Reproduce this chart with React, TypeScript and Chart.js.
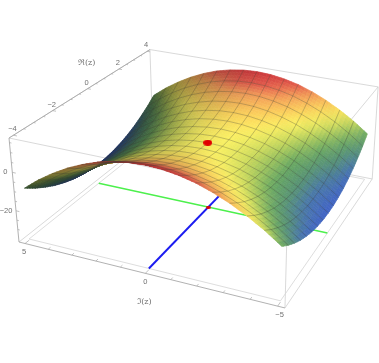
import React, { useEffect, useRef } from "react";
import { Chart, registerables } from "chart.js";

Chart.register(...registerables);

const imValues = [5, 4.375, 3.75, 3.125, 2.5, 1.875, 1.25, 0.625, 0, -0.625, -1.25, -1.875, -2.5, -3.125, -3.75, -4.375, -5];
const reValues = [-4, -3.5, -3, -2.5, -2, -1.5, -1, -0.5, 0, 0.5, 1, 1.5, 2, 2.5, 3, 3.5, 4];

// Height read at each mesh crossing: one row per reValues entry, one column per imValues entry
const heights = [
  [-9, -3.1, 1.9, 6.2, 9.7, 12.5, 14.4, 15.6, 16, 15.6, 14.4, 12.5, 9.7, 6.2, 1.9, -3.1, -9],
  [-12.8, -6.9, -1.8, 2.5, 6, 8.8, 10.7, 11.9, 12.3, 11.9, 10.7, 8.8, 6, 2.5, -1.8, -6.9, -12.8],
  [-16, -10.1, -5.1, -0.8, 2.7, 5.5, 7.4, 8.6, 9, 8.6, 7.4, 5.5, 2.7, -0.8, -5.1, -10.1, -16],
  [-18.8, -12.9, -7.8, -3.5, 0, 2.7, 4.7, 5.9, 6.3, 5.9, 4.7, 2.7, 0, -3.5, -7.8, -12.9, -18.8],
  [-21, -15.1, -10.1, -5.8, -2.3, 0.5, 2.4, 3.6, 4, 3.6, 2.4, 0.5, -2.3, -5.8, -10.1, -15.1, -21],
  [-22.8, -16.9, -11.8, -7.5, -4, -1.3, 0.7, 1.9, 2.3, 1.9, 0.7, -1.3, -4, -7.5, -11.8, -16.9, -22.8],
  [-24, -18.1, -13.1, -8.8, -5.3, -2.5, -0.6, 0.6, 1, 0.6, -0.6, -2.5, -5.3, -8.8, -13.1, -18.1, -24],
  [-24.8, -18.9, -13.8, -9.5, -6, -3.3, -1.3, -0.1, 0.3, -0.1, -1.3, -3.3, -6, -9.5, -13.8, -18.9, -24.8],
  [-25, -19.1, -14.1, -9.8, -6.3, -3.5, -1.6, -0.4, 0, -0.4, -1.6, -3.5, -6.3, -9.8, -14.1, -19.1, -25],
  [-24.8, -18.9, -13.8, -9.5, -6, -3.3, -1.3, -0.1, 0.3, -0.1, -1.3, -3.3, -6, -9.5, -13.8, -18.9, -24.8],
  [-24, -18.1, -13.1, -8.8, -5.3, -2.5, -0.6, 0.6, 1, 0.6, -0.6, -2.5, -5.3, -8.8, -13.1, -18.1, -24],
  [-22.8, -16.9, -11.8, -7.5, -4, -1.3, 0.7, 1.9, 2.3, 1.9, 0.7, -1.3, -4, -7.5, -11.8, -16.9, -22.8],
  [-21, -15.1, -10.1, -5.8, -2.3, 0.5, 2.4, 3.6, 4, 3.6, 2.4, 0.5, -2.3, -5.8, -10.1, -15.1, -21],
  [-18.8, -12.9, -7.8, -3.5, 0, 2.7, 4.7, 5.9, 6.3, 5.9, 4.7, 2.7, 0, -3.5, -7.8, -12.9, -18.8],
  [-16, -10.1, -5.1, -0.8, 2.7, 5.5, 7.4, 8.6, 9, 8.6, 7.4, 5.5, 2.7, -0.8, -5.1, -10.1, -16],
  [-12.8, -6.9, -1.8, 2.5, 6, 8.8, 10.7, 11.9, 12.3, 11.9, 10.7, 8.8, 6, 2.5, -1.8, -6.9, -12.8],
  [-9, -3.1, 1.9, 6.2, 9.7, 12.5, 14.4, 15.6, 16, 15.6, 14.4, 12.5, 9.7, 6.2, 1.9, -3.1, -9],
];

const imMajorTicks = [5, 0, -5];
const imMinorTicks = [4, 3, 2, 1, -1, -2, -3, -4];
const reMajorTicks = [-4, -2, 0, 2, 4];
const reMinorTicks = [-3.5, -3, -2.5, -1.5, -1, -0.5, 0.5, 1, 1.5, 2.5, 3, 3.5];
const zMajorTicks = [0, -20];
const zMinorTicks = [15, 10, 5, -5, -10, -15, -25, -30];

const paletteHeights = [16, 12, 9, 4, 0, -4, -9, -15, -20, -25];
const paletteColors = [
  [208, 58, 62], [228, 92, 78], [243, 155, 90], [252, 208, 92], [252, 242, 100],
  [195, 214, 92], [106, 170, 98], [84, 142, 122], [70, 112, 188], [66, 100, 198],
];

// Perspective view of the unit box (a along Im, b along Re, c up)
const VIEW = { g: -0.095, h: 0.25, k: -0.0456, x0: 19, A: 238.9, B: 172, C: -10.41, y0: 242, D: 36.7, E: -72, F: -110.29 };
const INSET = 0.025;
const floorC = 0.012;
const aOf = (im: number) => INSET + ((1 - 2 * INSET) * (5 - im)) / 10;
const bOf = (re: number) => INSET + ((1 - 2 * INSET) * (re + 4)) / 8;
const cOf = (z: number) => 0.68 + 0.0185 * z;

function view(a: number, b: number, c: number) {
  const v = VIEW;
  const w = 1 + v.g * a + v.h * b + v.k * c;
  return { x: (v.x0 + v.A * a + v.B * b + v.C * c) / w, y: (v.y0 + v.D * a + v.E * b + v.F * c) / w };
}

const GAP = { x: NaN, y: NaN };
const seg = (p: number[], q: number[]) => [view(p[0], p[1], p[2]), view(q[0], q[1], q[2]), GAP];

function paletteAt(z: number) {
  const n = paletteHeights.length;
  if (z >= paletteHeights[0]) return paletteColors[0];
  for (let i = 1; i < n; i++) {
    if (z >= paletteHeights[i]) {
      const t = (z - paletteHeights[i]) / (paletteHeights[i - 1] - paletteHeights[i]);
      return paletteColors[i].map((v, k) => v + (paletteColors[i - 1][k] - v) * t);
    }
  }
  return paletteColors[n - 1];
}

function vertexColor(i: number, j: number) {
  const ri0 = Math.max(i - 1, 0), ri1 = Math.min(i + 1, 16);
  const rj0 = Math.max(j - 1, 0), rj1 = Math.min(j + 1, 16);
  const dh = 0.4 * 0.0185;
  const da = (dh * (heights[i][rj1] - heights[i][rj0])) / ((rj1 - rj0) / 16);
  const db = (dh * (heights[ri1][j] - heights[ri0][j])) / ((ri1 - ri0) / 16);
  const len = Math.hypot(da, db, 1);
  const dot = (-da * 0.55 + db * 0.15 + 0.82) / len;
  const f = Math.min(1, 0.14 + dot);
  return paletteAt(heights[i][j]).map((v) => v * f);
}

const surfacePoints = reValues.flatMap((re, i) =>
  imValues.map((im, j) => view(aOf(im), bOf(re), cOf(heights[i][j])))
);

const surfacePainter = {
  id: "surfacePainter",
  afterDatasetDraw(chart: any, args: any) {
    if (args.meta.label !== "surface") return;
    const ctx = chart.ctx as CanvasRenderingContext2D;
    const pts = args.meta.data;
    const colors = reValues.map((_, i) => imValues.map((_, j) => vertexColor(i, j)));
    const SUB = 4;
    ctx.save();
    ctx.lineWidth = 0.7;
    ctx.lineJoin = "round";
    for (let i = 15; i >= 0; i--) {
      for (let j = 0; j < 16; j++) {
        const p00 = pts[i * 17 + j], p01 = pts[i * 17 + j + 1];
        const p10 = pts[(i + 1) * 17 + j], p11 = pts[(i + 1) * 17 + j + 1];
        const mix = (s: number, t: number) => ({
          x: (1 - s) * ((1 - t) * p00.x + t * p01.x) + s * ((1 - t) * p10.x + t * p11.x),
          y: (1 - s) * ((1 - t) * p00.y + t * p01.y) + s * ((1 - t) * p10.y + t * p11.y),
        });
        for (let s = SUB - 1; s >= 0; s--) {
          for (let t = 0; t < SUB; t++) {
            const sm = (s + 0.5) / SUB, tm = (t + 0.5) / SUB;
            const col = [0, 1, 2].map(
              (k) =>
                (1 - sm) * ((1 - tm) * colors[i][j][k] + tm * colors[i][j + 1][k]) +
                sm * ((1 - tm) * colors[i + 1][j][k] + tm * colors[i + 1][j + 1][k])
            );
            const css = `rgb(${col[0] | 0},${col[1] | 0},${col[2] | 0})`;
            const q = [mix(s / SUB, t / SUB), mix(s / SUB, (t + 1) / SUB), mix((s + 1) / SUB, (t + 1) / SUB), mix((s + 1) / SUB, t / SUB)];
            ctx.beginPath();
            ctx.moveTo(q[0].x, q[0].y);
            for (let n = 1; n < 4; n++) ctx.lineTo(q[n].x, q[n].y);
            ctx.closePath();
            ctx.fillStyle = css;
            ctx.strokeStyle = css;
            ctx.fill();
            ctx.stroke();
          }
        }
      }
    }
    ctx.restore();
  },
};

const NUM_FONT = "7.5px 'Liberation Sans'";
const labelPainter = {
  id: "labelPainter",
  afterDatasetsDraw(chart: any) {
    const ctx = chart.ctx as CanvasRenderingContext2D;
    const sx = chart.scales.x, sy = chart.scales.y;
    const put = (text: string, p: { x: number; y: number }, dx: number, dy: number, font: string) => {
      ctx.font = font;
      ctx.fillText(text, sx.getPixelForValue(p.x) + dx, sy.getPixelForValue(p.y) + dy);
    };
    const fmt = (v: number) => (v < 0 ? "\u2212" + -v : String(v));
    ctx.save();
    ctx.fillStyle = "#707070";
    ctx.textAlign = "center";
    ctx.textBaseline = "middle";
    imMajorTicks.forEach((v) => put(fmt(v), view(aOf(v), 0, 0), v === 5 ? -1 : v === 0 ? 0 : 2, v === 5 ? 8 : 9, NUM_FONT));
    reMajorTicks.forEach((v) => put(fmt(v), view(0, bOf(v), 1), -1, -6, NUM_FONT));
    zMajorTicks.forEach((v) => put(fmt(v), view(0, 0, cOf(v)), v === 0 ? -7 : -10, 0, NUM_FONT));
    put("\u211C(z)", view(0, bOf(0), 1), -1, -26, "8px 'DejaVu Serif'");
    put("\u2111(z)", view(aOf(0), 0, 0), -1, 29, "8px 'DejaVu Serif'");
    ctx.restore();
  },
};

function makeEllipse(w: number, h: number) {
  const c = document.createElement("canvas");
  c.width = w;
  c.height = h;
  const g = c.getContext("2d")!;
  g.fillStyle = "#e00000";
  g.beginPath();
  g.ellipse(w / 2, h / 2, w / 2, h / 2, 0, 0, Math.PI * 2);
  g.fill();
  return c;
}

const line = (label: string, data: any[], color: string, width: number, order: number) => ({
  label, data, borderColor: color, borderWidth: width, order,
  showLine: true, pointRadius: 0, fill: false, tension: 0, spanGaps: false,
});

export default function App() {
  const ref = useRef<HTMLCanvasElement>(null);
  useEffect(() => {
    const F = floorC;
    const I0 = INSET, I1 = 1 - INSET;
    const backEdges = [
      ...seg([0, 1, 1], [1, 1, 1]), ...seg([0, 0, 1], [0, 1, 1]), ...seg([0, 0, 1], [1, 0, 1]), ...seg([1, 0, 1], [1, 1, 1]),
      ...seg([0, 1, 0], [1, 1, 0]), ...seg([0, 1, 0], [0, 1, 1]), ...seg([1, 1, 0], [1, 1, 1]),
      ...seg([1, 0, 0], [1, 0, 1]), ...seg([0, 0, 0], [0, 1, 0]), ...seg([1, 0, 0], [1, 1, 0]),
    ];
    const axisEdges = [...seg([0, 0, 0], [1, 0, 0]), ...seg([0, 0, 0], [0, 0, 1]), ...seg([0, 0, 1], [0, 1, 1])];
    const floorEdges = [
      view(I0, I0, F), view(I1, I0, F), view(I1, I1, F), view(I0, I1, F), view(I0, I0, F),
    ];
    const ticks = [
      ...imMajorTicks.flatMap((v) => seg([aOf(v), 0, 0], [aOf(v), 0.025, 0])),
      ...imMinorTicks.flatMap((v) => seg([aOf(v), 0, 0], [aOf(v), 0.014, 0])),
      ...reMajorTicks.flatMap((v) => seg([0, bOf(v), 1], [0.014, bOf(v), 1])),
      ...reMinorTicks.flatMap((v) => seg([0, bOf(v), 1], [0.008, bOf(v), 1])),
      ...zMajorTicks.flatMap((v) => seg([0, 0, cOf(v)], [0.014, 0, cOf(v)])),
      ...zMinorTicks.flatMap((v) => seg([0, 0, cOf(v)], [0.008, 0, cOf(v)])),
    ];
    const datasets: any[] = [
      line("box", backEdges, "#cfcfcf", 0.8, 20),
      line("axes", axisEdges, "#a8a8a8", 0.9, 19),
      line("ticks", ticks, "#a8a8a8", 0.7, 19),
      line("floor", floorEdges, "#d4d4d4", 0.8, 18),
      line("green", [view(aOf(5), bOf(0), F), view(aOf(-5), bOf(0), F)], "#4cf04c", 1.4, 17),
      line("blue", [view(aOf(0), bOf(-4), F), view(aOf(0), bOf(4), F)], "#1c1cf0", 2, 16),
      {
        label: "floor origin", data: [view(aOf(0), bOf(0), F)], order: 15,
        pointStyle: makeEllipse(5, 3), pointRadius: 3, showLine: false,
      },
      { label: "surface", data: surfacePoints, order: 10, pointRadius: 0, showLine: false },
      ...[1, 2, 3, 4, 5, 6, 7, 8, 9, 10, 11, 12, 13, 14, 15].flatMap((n) => [
        line(`mesh im ${n}`, reValues.map((_, i) => surfacePoints[i * 17 + n]), "rgba(60,60,50,0.36)", 0.8, 5),
        line(`mesh re ${n}`, imValues.map((_, j) => surfacePoints[n * 17 + j]), "rgba(60,60,50,0.36)", 0.8, 5),
      ]),
      {
        label: "surface origin", data: [view(aOf(0), bOf(0), cOf(heights[8][8]))], order: 1,
        pointStyle: makeEllipse(9, 6), pointRadius: 5, showLine: false,
      },
    ];
    const chart = new Chart(ref.current!, {
      type: "scatter",
      data: { datasets },
      plugins: [surfacePainter, labelPainter],
      options: {
        animation: false,
        responsive: false,
        layout: { padding: 0, autoPadding: false },
        plugins: { legend: { display: false }, tooltip: { enabled: false } },
        scales: {
          x: { type: "linear", min: 0, max: 379, display: false },
          y: { type: "linear", min: 0, max: 363, reverse: true, display: false },
        },
      },
    } as any);
    return () => chart.destroy();
  }, []);
  return (
    <div style={{ position: "fixed", left: 0, top: 0, width: 379, height: 363, background: "#fff" }}>
      <canvas ref={ref} width={379} height={363} style={{ display: "block", filter: "blur(0.5px)" }} />
    </div>
  );
}
